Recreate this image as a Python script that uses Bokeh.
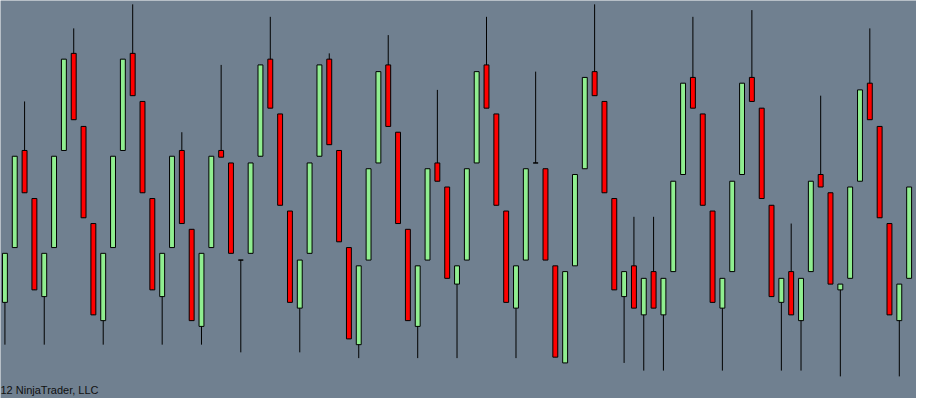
from bokeh.plotting import figure
from bokeh.models import Range1d, Label, ColumnDataSource
from bokeh.embed import file_html
from bokeh.resources import INLINE

# Candle data, index = bar number
opens = [100, 157, 258, 208, 106, 157, 258, 359, 283, 182,
         81, 157, 258, 359, 309, 208, 106, 157, 258, 176,
         75, 157, 258, 245, 144, 151, 252, 353, 296, 195,
         94, 151, 252, 353, 258, 157, 56, 144, 245, 347,
         277, 176, 75, 144, 245, 220, 119, 144, 245, 347,
         296, 195, 94, 144, 245, 239, 138, 37, 138, 239,
         340, 309, 208, 106, 138, 87, 132, 87, 132, 233,
         334, 296, 195, 94, 132, 233, 334, 302, 201, 100,
         132, 81, 132, 233, 214, 113, 125, 226, 328, 283,
         182, 81, 125, 226]
highs = [151, 252, 309, 208, 151, 252, 353, 385, 283, 182,
         151, 252, 353, 410, 309, 208, 151, 252, 277, 176,
         151, 252, 347, 245, 144, 245, 347, 397, 296, 195,
         144, 245, 347, 359, 258, 157, 138, 239, 340, 378,
         277, 176, 138, 239, 321, 220, 138, 239, 340, 397,
         296, 195, 138, 239, 340, 239, 138, 132, 233, 334,
         410, 309, 208, 132, 189, 125, 189, 125, 226, 328,
         397, 296, 195, 125, 226, 328, 404, 302, 201, 125,
         182, 125, 226, 315, 214, 119, 220, 321, 385, 283,
         182, 119, 220, 321]
lows = [56, 157, 214, 113, 56, 157, 258, 290, 188, 87,
        56, 157, 258, 315, 214, 113, 56, 157, 182, 81,
        56, 157, 251, 151, 48, 151, 252, 302, 201, 100,
        48, 151, 252, 264, 163, 62, 42, 144, 245, 283,
        182, 81, 42, 144, 226, 125, 42, 144, 245, 302,
        201, 100, 42, 144, 245, 144, 43, 37, 138, 239,
        315, 214, 113, 37, 94, 29, 94, 29, 132, 233,
        302, 201, 100, 29, 132, 233, 309, 208, 106, 29,
        87, 29, 132, 220, 119, 23, 125, 226, 290, 188,
        87, 23, 125, 226]
closes = [151, 252, 214, 113, 151, 252, 353, 290, 188, 87,
          151, 252, 353, 315, 214, 113, 151, 252, 182, 81,
          151, 252, 251, 151, 144, 245, 347, 302, 201, 100,
          144, 245, 347, 264, 163, 62, 138, 239, 340, 283,
          182, 81, 138, 239, 226, 125, 138, 239, 340, 302,
          201, 100, 138, 239, 245, 144, 43, 132, 233, 334,
          315, 214, 113, 132, 94, 125, 94, 125, 226, 328,
          302, 201, 100, 125, 226, 328, 309, 208, 106, 125,
          87, 125, 226, 220, 119, 119, 220, 321, 290, 188,
          87, 119, 220, 321]

copyright_text = "12 NinjaTrader, LLC"

UP_COLOR = "#90EE90"
DOWN_COLOR = "#FF0000"
BG = "#708090"

idx = list(range(len(opens)))
colors = [UP_COLOR if c >= o else DOWN_COLOR for o, c in zip(opens, closes)]
tops = [max(o, c) for o, c in zip(opens, closes)]
bottoms = [min(o, c) for o, c in zip(opens, closes)]

src = ColumnDataSource(dict(x=idx, open=opens, high=highs, low=lows, close=closes,
                            top=tops, bottom=bottoms, color=colors))

p = figure(width=916, height=398, output_backend="svg", toolbar_location=None,
           x_range=Range1d(-0.45, 92.75), y_range=Range1d(0, 414),
           min_border=0, background_fill_color=BG, border_fill_color=BG,
           outline_line_color=None)
p.axis.visible = False
p.grid.visible = False

p.segment(x0="x", y0="high", x1="x", y1="low", source=src, line_color="black", line_width=1)
p.vbar(x="x", top="top", bottom="bottom", width=0.5, source=src,
       fill_color="color", line_color="black", line_width=1)

p.add_layout(Label(x=0, y=3, x_units="screen", y_units="screen", text=copyright_text,
                   text_font="Liberation Sans", text_font_size="11px", text_color="#111111",
                   text_baseline="bottom"))

open("out.html", "w").write(file_html(p, INLINE))
